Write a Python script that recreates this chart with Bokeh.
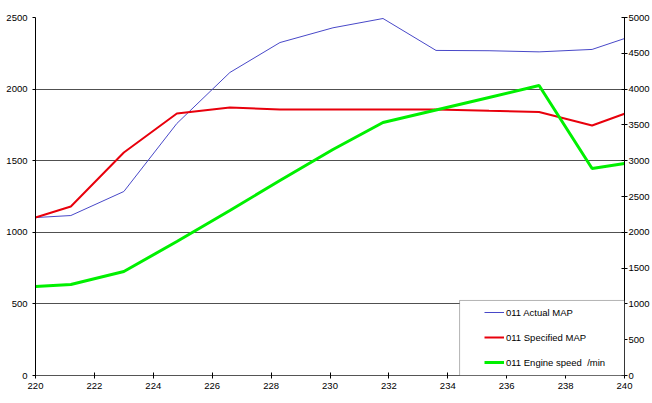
from bokeh.plotting import figure
from bokeh.models import (Range1d, LinearAxis, SingleIntervalTicker, Legend, LegendItem,
                          BoxAnnotation)
from bokeh.embed import file_html
from bokeh.resources import INLINE

time_s = [220.0, 221.2, 223.0, 224.8, 226.6, 228.3, 230.1, 231.8, 233.6, 235.4, 237.1, 238.9, 240.0]
actual_map = [1103, 1117, 1285, 1760, 2116, 2325, 2428, 2493, 2270, 2268, 2260, 2277, 2353]
specified_map = [1103, 1180, 1557, 1830, 1872, 1858, 1858, 1858, 1858, 1848, 1840, 1746, 1828]
engine_speed = [1243, 1271, 1453, 1871, 2304, 2723, 3156, 3534, 3707, 3883, 4050, 2891, 2961]

labels = ["011 Actual MAP", "011 Specified MAP", "011 Engine speed  /min"]

FONT = "Liberation Sans"
FS = "9.5px"

p = figure(width=652, height=400, output_backend="svg", toolbar_location=None,
           x_range=Range1d(220, 240), y_range=Range1d(0, 2500),
           min_border_left=35, min_border_right=28, min_border_top=17, min_border_bottom=25)
p.extra_y_ranges = {"rpm": Range1d(0, 5000)}
p.outline_line_color = None
p.background_fill_color = "white"
p.border_fill_color = "white"

p.xaxis.ticker = SingleIntervalTicker(interval=2)
p.yaxis.ticker = SingleIntervalTicker(interval=500)
p.xgrid.visible = False
p.ygrid.grid_line_color = "#505050"
p.ygrid.grid_line_width = 1

for ax in (p.xaxis[0], p.yaxis[0]):
    ax.major_label_text_font = FONT
    ax.major_label_text_font_size = FS
    ax.major_label_text_color = "black"
    ax.axis_line_color = "black"
    ax.major_tick_line_color = "black"
    ax.minor_tick_line_color = None

p.xaxis.major_tick_in = 3
p.xaxis.major_tick_out = 3
p.xaxis.major_label_standoff = 3
p.xaxis.axis_line_color = "#555555"
p.yaxis.major_tick_in = 0
p.yaxis.major_tick_out = 3
p.yaxis.major_label_standoff = 4

right = LinearAxis(y_range_name="rpm", ticker=SingleIntervalTicker(interval=500))
right.major_label_text_font = FONT
right.major_label_text_font_size = FS
right.major_label_text_color = "black"
right.axis_line_color = "black"
right.major_tick_line_color = "black"
right.minor_tick_line_color = None
right.major_tick_in = 3
right.major_tick_out = 3
right.major_label_standoff = 0
p.add_layout(right, "right")

r1 = p.line(time_s, actual_map, line_color="#4848c8", line_width=1)
r2 = p.line(time_s, specified_map, line_color="#e8000c", line_width=2)
r3 = p.line(time_s, engine_speed, line_color="#00f000", line_width=3, y_range_name="rpm")

box = BoxAnnotation(left=234.4, right=240, bottom=0, top=524,
                    fill_color="white", fill_alpha=1.0,
                    line_color="black", line_width=1, level="overlay")
p.add_layout(box)

legend = Legend(items=[LegendItem(label=labels[0], renderers=[r1]),
                       LegendItem(label=labels[1], renderers=[r2]),
                       LegendItem(label=labels[2], renderers=[r3])],
                location=(449, 7), padding=5, margin=0, spacing=13,
                glyph_width=20, glyph_height=12, label_height=12, label_standoff=2,
                label_text_font=FONT, label_text_font_size=FS, label_text_color="black",
                border_line_color=None, background_fill_alpha=0.0)
p.add_layout(legend)

open("out.html", "w").write(file_html(p, INLINE))
